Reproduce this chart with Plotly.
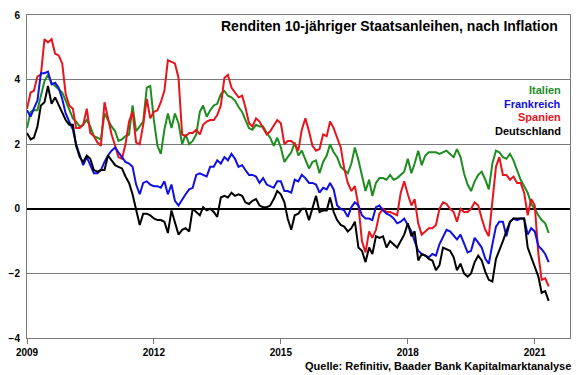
import pandas as pd
import plotly.graph_objects as go

months = pd.date_range("2009-01-01", periods=149, freq="MS")

italien = [
    2.5, 3.0, 3.05, 3.05, 3.5, 3.95, 4.15, 3.9, 3.8, 3.7, 3.6, 3.35,
    3.05, 2.8, 2.7, 2.55, 2.6, 2.75, 2.55, 2.25, 2.2, 2.15, 2.95, 2.75,
    2.55, 2.4, 2.1, 2.15, 2.25, 2.3, 3.2, 2.4, 2.55, 2.7, 3.75, 3.8,
    2.75, 1.95, 1.7, 2.45, 2.95, 2.5, 2.95, 2.65, 2.0, 2.3, 2.0, 2.1,
    2.3, 3.0, 3.2, 2.85, 3.05, 3.2, 3.25, 3.55, 3.65, 3.5, 3.45, 3.35,
    3.15, 3.0, 2.75, 2.5, 2.45, 2.6, 2.55, 2.55, 2.35, 2.2, 1.95, 2.2,
    1.9, 1.45, 1.6, 1.75, 2.05, 1.65, 1.8, 1.5, 1.25, 1.45, 1.5, 1.1,
    1.45, 1.65, 2.0, 1.75, 1.6, 1.3, 1.2, 1.1, 1.4, 1.9, 1.5, 1.05,
    0.55, 0.9, 0.4, 0.8, 0.95, 0.95, 0.9, 1.05, 0.9, 0.95, 1.05, 1.15,
    1.55, 1.1, 1.4, 1.8, 1.35, 1.65, 1.75, 1.75, 1.75, 1.7, 1.75, 1.8,
    1.7, 1.6, 1.85, 1.6, 1.1, 0.75, 0.55, 0.85, 1.05, 1.15, 0.9, 0.6,
    1.4, 1.8, 1.75, 1.6, 1.55, 1.7, 1.5, 1.2, 0.9, 0.7, 0.5, 0.15,
    0.0, -0.2, -0.35, -0.45, -0.75,
]

spanien = [
    3.1, 3.6, 3.65, 4.1, 4.15, 5.25, 5.15, 5.25, 4.8, 4.75, 4.5, 3.55,
    3.2, 3.1, 2.5, 2.5, 2.6, 3.1, 2.35, 2.25, 2.05, 1.95, 3.3, 2.75,
    2.3, 1.95, 1.6, 1.55, 2.0, 2.7, 3.0, 2.05, 2.0, 2.6, 3.4, 2.8,
    3.0, 3.05, 3.3, 3.65, 4.6, 4.55, 4.5, 4.05, 2.3, 2.25, 2.35, 2.35,
    2.45, 2.3, 2.6, 2.7, 2.75, 2.75, 2.9, 3.2, 4.05, 4.15, 3.75, 3.6,
    3.45, 3.5, 3.15, 2.65, 2.55, 2.8, 2.7, 2.5, 2.3, 2.4, 2.6, 2.75,
    2.65, 2.0, 2.1, 2.1, 2.0, 1.8, 2.45, 2.8, 2.4, 1.95, 1.8, 1.85,
    2.3, 2.25, 2.7, 2.5, 2.2, 1.9, 1.25, 0.8, 0.55, 0.7, 0.1, -1.0,
    -1.35, -0.7, -0.9, -0.65, -0.15, 0.0, -0.1, -0.1, -0.15, -0.2, 0.5, 0.85,
    0.45, 0.1, 0.3, -0.45, -0.8, -0.7, -0.6, -0.6, -0.5, 0.0, 0.2, 0.15,
    0.0, -0.1, -0.4, 0.0, -0.1, -0.1, 0.0, 0.2, 0.1, -0.3, -0.65, -0.85,
    0.3, 1.3, 1.6, 1.05, 1.05, 0.9, 1.0, 0.8, 0.8, 0.5, -0.2, 0.3,
    0.1, -1.4, -2.2, -2.15, -2.4,
]

frankreich = [
    3.05, 2.85, 3.1, 3.35, 4.2, 4.2, 4.25, 3.85, 3.9, 3.75, 3.4, 2.95,
    2.7, 2.45, 2.0, 1.7, 1.35, 1.6, 1.35, 1.1, 1.1, 1.2, 1.45, 1.65,
    1.8, 1.9, 1.75, 1.6, 1.45, 1.4, 1.3, 0.75, 0.45, 0.8, 0.85, 0.75,
    0.7, 0.7, 0.65, 0.85, 0.45, 0.75, 0.25, 0.1, 0.3, 0.45, 0.6, 0.65,
    1.05, 1.1, 1.05, 1.0, 1.3, 1.3, 1.5, 1.4, 1.6, 1.5, 1.7, 1.55,
    1.3, 1.35, 1.2, 1.05, 1.05, 1.0, 0.8, 0.95, 0.75, 0.7, 0.65, 0.85,
    0.85, 0.55, 0.55, 0.5, 0.9, 0.85, 1.05, 0.95, 0.8, 0.8, 0.75, 0.5,
    0.65, 0.6, 0.8, 0.6, 0.1, 0.0, -0.05, -0.25, 0.05, 0.2, 0.1, -0.2,
    -0.3, -0.3, -0.35, 0.05, 0.1, -0.05, -0.15, -0.2, -0.3, -0.45, -0.4, -0.3,
    -0.5, -0.7, -1.0, -1.3, -1.4, -1.45, -1.5, -1.4, -1.45, -1.1, -0.85, -0.65,
    -0.7, -0.85, -0.95, -0.8, -1.1, -1.35, -1.3, -0.9, -1.05, -1.2, -1.55, -1.7,
    -1.1, -0.55, -0.4, -0.4, -0.85, -0.4, -0.3, -0.35, -0.3, -0.3, -0.8, -0.6,
    -0.7, -1.15, -1.25, -1.4, -1.65,
]

deutschland = [
    2.35, 2.15, 2.2, 2.55, 3.2, 3.3, 3.8, 3.25, 3.45, 3.2, 3.0, 2.75,
    2.6, 2.6, 1.95, 1.6, 1.45, 1.65, 1.55, 1.2, 1.15, 1.2, 1.2, 1.65,
    1.5, 1.35, 1.3, 1.25, 1.0, 0.8, 0.45, -0.05, -0.5, -0.15, -0.15, -0.2,
    -0.3, -0.35, -0.35, -0.4, -0.75, -0.05, -0.45, -0.8, -0.65, -0.6, -0.7, 0.0,
    -0.1, -0.2, 0.05, -0.05, 0.0, -0.1, -0.25, 0.35, 0.4, 0.35, 0.5, 0.4,
    0.45, 0.4, 0.2, 0.15, 0.25, 0.3, 0.1, 0.05, 0.05, 0.1, 0.3, 0.55,
    0.45, 0.2, -0.3, -0.65, -0.2, -0.15, 0.0, 0.0, -0.35, 0.05, 0.4, -0.1,
    -0.05, -0.05, 0.35, -0.1, -0.35, -0.5, -0.55, -0.7, -0.6, -0.4, -1.2, -1.3,
    -1.65, -1.2, -1.4, -0.85, -0.9, -0.85, -1.2, -1.0, -1.1, -1.2, -1.0, -0.8,
    -0.45, -0.85, -0.7, -1.6, -1.4, -1.45, -1.55, -1.6, -1.9, -1.75, -1.2, -1.25,
    -1.3, -1.5, -1.9, -1.7, -2.0, -2.1, -2.0, -1.65, -1.45, -1.6, -1.95, -2.2,
    -2.25, -1.55, -1.25, -1.0, -0.7, -0.4, -0.3, -0.3, -0.3, -0.3, -1.2, -1.5,
    -1.85, -2.1, -2.6, -2.55, -2.85,
]

year_ticks = ["2009-01-01", "2012-01-01", "2015-01-01", "2018-01-01", "2021-01-01"]
year_labels = ["2009", "2012", "2015", "2018", "2021"]
y_ticks = [-4, -2, 0, 2, 4, 6]

series = [
    ("Italien", italien, "#1e8c1e"),
    ("Spanien", spanien, "#e8141c"),
    ("Frankreich", frankreich, "#1010e0"),
    ("Deutschland", deutschland, "#000000"),
]

fig = go.Figure()
for name, vals, col in series:
    fig.add_trace(go.Scatter(x=months, y=vals, mode="lines", name=name,
                             line=dict(color=col, width=2)))

FONT = "Arial, Liberation Sans, sans-serif"
fig.update_layout(
    width=580, height=375,
    margin=dict(l=24, r=9, t=11, b=37),
    paper_bgcolor="white", plot_bgcolor="white",
    showlegend=False,
    font=dict(family=FONT, color="black"),
)
fig.update_xaxes(
    type="date", range=["2009-01-01", "2021-11-01"],
    tickvals=year_ticks, ticktext=year_labels,
    tickfont=dict(size=10, weight="bold", family=FONT, color="black"),
    showgrid=False, zeroline=False,
    showline=True, linecolor="#7a7a7a", linewidth=1, mirror=True,
    ticks="outside", ticklen=5, tickcolor="#7a7a7a",
)
fig.update_yaxes(
    range=[-4, 6], tickvals=y_ticks,
    tickfont=dict(size=10, weight="bold", family=FONT, color="black"),
    ticklabelstandoff=4,
    showgrid=True, gridcolor="#7a7a7a", gridwidth=1,
    zeroline=True, zerolinecolor="black", zerolinewidth=2,
    showline=True, linecolor="#7a7a7a", linewidth=1, mirror=True,
    ticks="",
)

ann = []
ann.append(dict(text="Renditen 10-jähriger Staatsanleihen, nach Inflation",
                xref="paper", yref="paper", x=0.982, y=0.965,
                xanchor="right", yanchor="middle", showarrow=False,
                font=dict(size=14, weight="bold", family=FONT, color="black")))
leg_y = [0.769, 0.726, 0.683, 0.640]
leg = [("Italien", "#1e8c1e"), ("Frankreich", "#1010e0"),
       ("Spanien", "#e8141c"), ("Deutschland", "#000000")]
for (nm, col), yy in zip(leg, leg_y):
    ann.append(dict(text=nm, xref="paper", yref="paper", x=0.987, y=yy,
                    xanchor="right", yanchor="middle", showarrow=False,
                    font=dict(size=11, weight="bold", family=FONT, color=col)))
ann.append(dict(text="Quelle: Refinitiv, Baader Bank Kapitalmarktanalyse",
                xref="paper", yref="paper", x=1.006, y=-0.088,
                xanchor="right", yanchor="middle", showarrow=False,
                font=dict(size=11, weight="bold", family=FONT, color="black")))
fig.update_layout(annotations=ann)

fig.write_html("out.html", config={"displayModeBar": False},
               post_script="document.body.style.margin='0';document.body.style.padding='0';")
